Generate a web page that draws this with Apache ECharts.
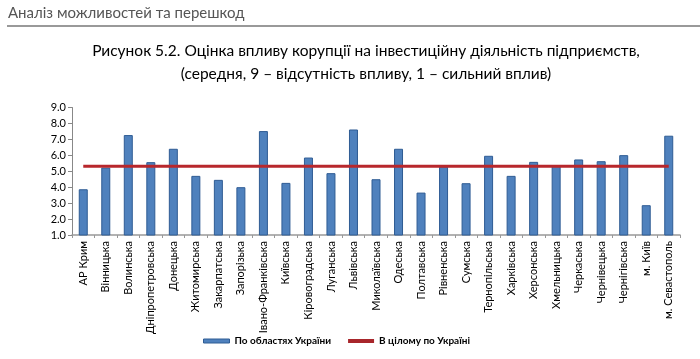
<!DOCTYPE html>
<html><head><meta charset="utf-8">
<script src="https://cdn.jsdelivr.net/npm/echarts@6/dist/echarts.min.js"></script>
<style>html,body{margin:0;padding:0;background:#fff}#c{width:700px;height:359px}</style>
</head><body><div id="c"></div>
<script>
const categories = ['АР Крим','Вінницька','Волинська','Дніпропетровська','Донецька','Житомирська','Закарпатська','Запорізька','Івано-Франківська','Київська','Кіровоградська','Луганська','Львівська','Миколаївська','Одеська','Полтавська','Рівненська','Сумська','Тернопільська','Харківська','Херсонська','Хмельницька','Черкаська','Чернівецька','Чернігівська','м. Київ','м. Севастополь'];
const regionValues = [3.87,5.23,7.27,5.57,6.41,4.71,4.46,4.0,7.52,4.27,5.86,4.88,7.62,4.5,6.41,3.66,5.28,4.25,5.97,4.71,5.59,5.38,5.74,5.63,6.01,2.87,7.23];
const ukraineValues = [5.32,5.32,5.32,5.32,5.32,5.32,5.32,5.32,5.32,5.32,5.32,5.32,5.32,5.32,5.32,5.32,5.32,5.32,5.32,5.32,5.32,5.32,5.32,5.32,5.32,5.32,5.32];
const yTicks = [1,2,3,4,5,6,7,8,9];
const seriesNames = ['По областях України','В цілому по Україні'];
const headerText = 'Аналіз можливостей та перешкод';
const titleText = 'Рисунок 5.2. Оцінка впливу корупції на інвестиційну діяльність підприємств,\n(середня, 9 – відсутність впливу, 1 – сильний вплив)';

const FONT = 'Lato';
const chart = echarts.init(document.getElementById('c'), null, {renderer:'canvas'});
chart.setOption({
  animation:false,
  textStyle:{fontFamily:FONT},
  graphic:[
    {type:'text', left:8, top:6, style:{text:headerText, fontFamily:FONT, fontSize:15, fill:'#555'}},
    {type:'line', shape:{x1:7,y1:26,x2:700,y2:26}, style:{stroke:'#999',lineWidth:2}}
  ],
  title:{text:titleText, left:361, textAlign:'center', top:34,
    textStyle:{fontFamily:FONT, fontSize:15.5, fontWeight:'normal', color:'#000', lineHeight:23}},
  legend:{bottom:8, left:198, itemGap:17, itemWidth:26, itemHeight:4,
    textStyle:{fontFamily:FONT, fontSize:10, color:'#000', fontWeight:'bold'},
    data:[{name:seriesNames[0], icon:'rect', itemStyle:{color:'#4F81BD', borderColor:'#2F5C94', borderWidth:1}},
          {name:seriesNames[1], icon:'rect', itemStyle:{color:'#A8262B', borderWidth:0}}]},
  grid:{left:72, right:20, top:107.5, bottom:124, containLabel:false},
  xAxis:{type:'category', data:categories,
    axisLine:{lineStyle:{color:'#999', width:1.5}},
    axisTick:{show:true, length:3, lineStyle:{color:'#999'}},
    axisLabel:{rotate:90, interval:0, fontSize:11, color:'#000', fontFamily:FONT, margin:6}},
  yAxis:{type:'value', min:yTicks[0], max:yTicks[yTicks.length-1], interval:1,
    axisLine:{show:true, lineStyle:{color:'#888'}},
    axisTick:{show:true, length:4, lineStyle:{color:'#888'}},
    splitLine:{show:false},
    axisLabel:{fontSize:11, color:'#000', fontFamily:FONT, margin:6, formatter:v=>v.toFixed(1)}},
  series:[
    {name:seriesNames[0], type:'bar', data:regionValues, barWidth:9,
      itemStyle:{color:'#4F81BD', borderColor:'#2F5C94', borderWidth:1}},
    {name:seriesNames[1], type:'line', data:ukraineValues, symbol:'none',
      lineStyle:{color:'#B8272C', width:3}, itemStyle:{color:'#B8272C'}}
  ]
});
</script></body></html>
